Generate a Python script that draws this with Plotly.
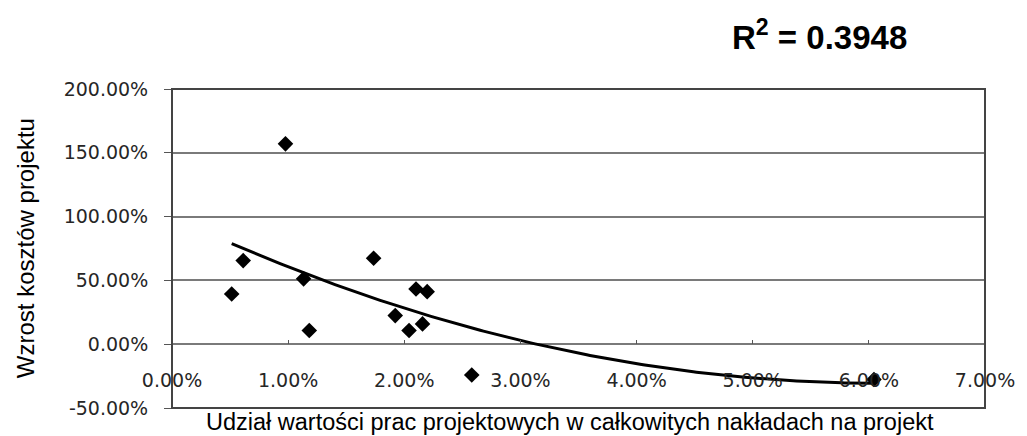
import numpy as np
import plotly.graph_objects as go

# Design-work share of total project outlay (%) and project cost growth (%)
design_share_pct = [0.514, 0.613, 0.977, 1.133, 1.182, 1.736, 1.922, 2.041,
                    2.101, 2.157, 2.197, 2.581, 6.044]
cost_growth_pct = [39.4, 65.5, 157.0, 51.2, 10.7, 67.4, 22.4, 10.7,
                   43.3, 15.9, 41.2, -24.1, -27.7]

x_ticks = [0, 1, 2, 3, 4, 5, 6, 7]
y_ticks = [-50, 0, 50, 100, 150, 200]
r_squared_label = "0.3948"

x = np.array(design_share_pct) / 100.0
y = np.array(cost_growth_pct) / 100.0

# Second-order polynomial trendline over the data range
coef = np.polyfit(x, y, 2)
xs = np.linspace(x.min(), x.max(), 200)
ys = np.polyval(coef, xs)

tick_font = dict(family="DejaVu Sans", size=19, color="#262626")


def pct_label(v):
    return f"{v:.2f}%"


fig = go.Figure()
fig.add_trace(go.Scatter(
    x=xs, y=ys, mode="lines",
    line=dict(color="black", width=3),
    hoverinfo="skip", showlegend=False,
))
fig.add_trace(go.Scatter(
    x=x, y=y, mode="markers",
    marker=dict(symbol="diamond", size=12, color="black"),
    showlegend=False,
))

y_min, y_max = -0.5, 2.0
fig.update_layout(
    width=1027, height=436,
    margin=dict(l=172, r=35, t=89, b=28),
    paper_bgcolor="white", plot_bgcolor="white",
    xaxis=dict(
        range=[0, 0.07],
        tickvals=[v / 100 for v in x_ticks],
        ticktext=[pct_label(v) for v in x_ticks],
        tickfont=tick_font,
        showgrid=False, zeroline=False, showline=False,
        ticks="inside", ticklen=4, tickcolor="#555555",
        anchor="free",
        position=(0 - y_min) / (y_max - y_min),
        ticklabelstandoff=23,
    ),
    yaxis=dict(
        range=[y_min, y_max],
        tickvals=[v / 100 for v in y_ticks],
        ticktext=[pct_label(v) for v in y_ticks],
        tickfont=tick_font,
        showgrid=True, gridcolor="#7a7a7a", gridwidth=1.5,
        zeroline=False, showline=False,
        ticks="outside", ticklen=7, tickcolor="#555555",
        ticklabelstandoff=12,
    ),
    shapes=[dict(
        type="rect", xref="paper", yref="paper",
        x0=0, y0=0, x1=1, y1=1,
        line=dict(color="#444444", width=2),
    )],
    annotations=[
        dict(
            text="Udział wartości prac projektowych w całkowitych nakładach na projekt",
            xref="paper", yref="paper", x=0.489, y=-0.0875,
            xanchor="center", yanchor="bottom", showarrow=False,
            borderpad=0,
            font=dict(family="Liberation Sans", size=23.5, color="black"),
        ),
        dict(
            text="Wzrost kosztów projektu",
            xref="paper", yref="paper", x=-0.18, y=0.5,
            xanchor="center", yanchor="middle", showarrow=False,
            textangle=-90,
            font=dict(family="Liberation Sans", size=24, color="black"),
        ),
        dict(
            text="<b>R<sup>2</sup> = " + r_squared_label + "</b>",
            xref="paper", yref="paper", x=0.797, y=1.169,
            xanchor="center", yanchor="middle", showarrow=False,
            font=dict(family="Liberation Sans", size=33, color="black"),
        ),
    ],
)

fig.write_html("out.html")
